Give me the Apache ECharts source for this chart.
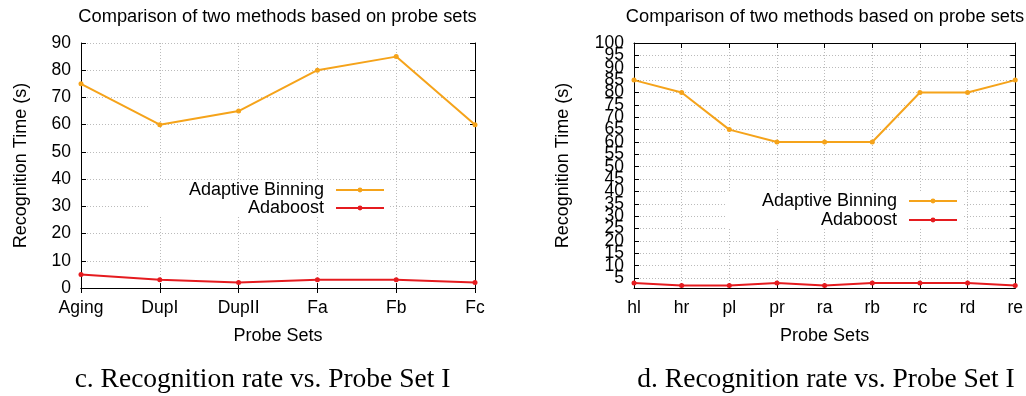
<!DOCTYPE html>
<html>
<head>
<meta charset="utf-8">
<script src="https://cdn.jsdelivr.net/npm/echarts@6/dist/echarts.min.js"></script>
<style>html,body{margin:0;padding:0;background:#fff}#c{width:1026px;height:396px}</style>
</head>
<body>
<div id="c"></div>
<script>
// ---- data ----
const titleText = 'Comparison of two methods based on probe sets';
const yName = 'Recognition Time (s)';
const xName = 'Probe Sets';
const captionC = 'c. Recognition rate vs. Probe Set I';
const captionD = 'd. Recognition rate vs. Probe Set I';
const seriesNames = ['Adaptive Binning', 'Adaboost'];

const catsC = ['Aging', 'DupI', 'DupII', 'Fa', 'Fb', 'Fc'];
const adaptiveC = [75, 60, 65, 80, 85, 60];
const adaboostC = [5, 3, 2, 3, 3, 2];
const yMinC = 0, yMaxC = 90, yStepC = 10;

const catsD = ['hl', 'hr', 'pl', 'pr', 'ra', 'rb', 'rc', 'rd', 're'];
const adaptiveD = [85, 80, 65, 60, 60, 60, 80, 80, 85];
const adaboostD = [3, 2, 2, 3, 2, 3, 3, 3, 2];
const yMinD = 1, yMaxD = 100;
const yTicksD = [5, 10, 15, 20, 25, 30, 35, 40, 45, 50, 55, 60, 65, 70, 75, 80, 85, 90, 95, 100];

const colAB = '#f5a31a';
const colAda = '#e51b1f';
const FONT = 'Liberation Sans';

// ---- chart ----
const chart = echarts.init(document.getElementById('c'), null, {renderer: 'canvas'});
const grids = [
  {left: 81, right: 551, top: 43, bottom: 108},
  {left: 634, right: 9, top: 43, bottom: 108}
];
const gridOpts = grids.map(g => Object.assign({show: false, containLabel: false}, g));

function xAx(gi, cats, pos) {
  const bottom = pos === 'bottom';
  return {
    type: 'category', gridIndex: gi, data: cats, boundaryGap: false, position: pos,
    name: bottom ? xName : '', nameLocation: 'middle', nameGap: 39,
    nameTextStyle: {fontFamily: FONT, fontSize: 18, color: '#000'},
    axisLine: {show: true, lineStyle: {color: '#000', width: 1}},
    axisTick: {show: true, inside: true, length: 5, alignWithLabel: true, lineStyle: {color: '#000'}},
    axisLabel: {show: bottom, margin: 11, fontFamily: FONT, fontSize: 17.5, color: '#000', interval: 0, hideOverlap: false},
    splitLine: {show: bottom, lineStyle: {color: '#bbb', type: [1, 2], width: 1}}
  };
}
// labels: true/false ; lines: draw axis line + ticks + split lines
function yAx(gi, min, max, interval, tickVals, labelVals, pos, gap, showLabels, showLines) {
  const left = pos === 'left';
  const a = {
    type: 'value', gridIndex: gi, min: min, max: max, position: pos,
    name: (left && showLines) ? yName : '', nameLocation: 'middle', nameGap: gap, nameRotate: 90,
    nameTextStyle: {fontFamily: FONT, fontSize: 18, color: '#000'},
    axisLine: {show: showLines, lineStyle: {color: '#000', width: 1}},
    axisTick: {show: showLines, inside: true, length: 5, lineStyle: {color: '#000'}},
    axisLabel: {show: showLabels, margin: 10, fontFamily: FONT, fontSize: 17.5, color: '#000', showMinLabel: true, showMaxLabel: true, hideOverlap: false},
    splitLine: {show: left && showLines, lineStyle: {color: '#bbb', type: [1, 2], width: 1}}
  };
  if (interval) a.interval = interval;
  if (tickVals) a.axisTick.customValues = tickVals;
  if (labelVals) a.axisLabel.customValues = labelVals;
  return a;
}

function mkSeries(name, data, color, xi, yi) {
  return {
    type: 'line', name: name, data: data, xAxisIndex: xi, yAxisIndex: yi,
    symbol: 'circle', symbolSize: 5, showAllSymbol: true,
    lineStyle: {color: color, width: 2}, itemStyle: {color: color},
    emphasis: {disabled: true}, animation: false, z: 3
  };
}

function mkLegend(name, right, top) {
  return {
    data: [name], right: right, top: top, orient: 'horizontal', align: 'right',
    itemWidth: 48, itemHeight: 6, padding: 0, selectedMode: false,
    textStyle: {fontFamily: FONT, fontSize: 18, color: '#000', padding: [0, 7, 0, 0]}
  };
}

const titleStyle = {fontFamily: FONT, fontSize: 18.3, fontWeight: 'normal', color: '#000'};
const capStyle = {fontFamily: 'Liberation Serif', fontSize: 27.5, fontWeight: 'normal', color: '#000'};

// split the dense right-hand labels into two interleaved sets so none is auto-dropped
const yLabelsD_a = yTicksD.filter((v, i) => i % 2 === 0);
const yLabelsD_b = yTicksD.filter((v, i) => i % 2 === 1);

const option = {
  backgroundColor: '#fff',
  animation: false,
  title: [
    {text: titleText, left: 277.5, top: 8, padding: 0, textAlign: 'center', textStyle: titleStyle},
    {text: titleText, left: 825, top: 8, padding: 0, textAlign: 'center', textStyle: titleStyle},
    {text: captionC, left: 262.5, top: 366, padding: 0, textAlign: 'center', textStyle: capStyle},
    {text: captionD, left: 826, top: 366, padding: 0, textAlign: 'center', textStyle: capStyle}
  ],
  graphic: [
    {type: 'rect', shape: {x: 150, y: 180, width: 240, height: 37}, style: {fill: '#fff'}, z: 1, silent: true},
    {type: 'rect', shape: {x: 725, y: 191, width: 237, height: 38}, style: {fill: '#fff'}, z: 1, silent: true}
  ],
  legend: [
    mkLegend(seriesNames[0], 641, 181),
    mkLegend(seriesNames[1], 641, 199),
    mkLegend(seriesNames[0], 68, 192),
    mkLegend(seriesNames[1], 68, 211)
  ],
  grid: gridOpts,
  xAxis: [
    xAx(0, catsC, 'bottom'), xAx(0, catsC, 'top'),
    xAx(1, catsD, 'bottom'), xAx(1, catsD, 'top')
  ],
  yAxis: [
    yAx(0, yMinC, yMaxC, yStepC, null, null, 'left', 51, true, true),
    yAx(0, yMinC, yMaxC, yStepC, null, null, 'right', 10, false, true),
    yAx(1, yMinD, yMaxD, null, yTicksD, yLabelsD_a, 'left', 62, true, true),
    yAx(1, yMinD, yMaxD, null, yTicksD, null, 'right', 10, false, true),
    yAx(1, yMinD, yMaxD, null, yLabelsD_b, yLabelsD_b, 'left', 62, true, false)
  ],
  series: [
    mkSeries(seriesNames[0], adaptiveC, colAB, 0, 0),
    mkSeries(seriesNames[1], adaboostC, colAda, 0, 0),
    mkSeries(seriesNames[0], adaptiveD, colAB, 2, 2),
    mkSeries(seriesNames[1], adaboostD, colAda, 2, 2)
  ]
};
chart.setOption(option);
</script>
</body>
</html>
